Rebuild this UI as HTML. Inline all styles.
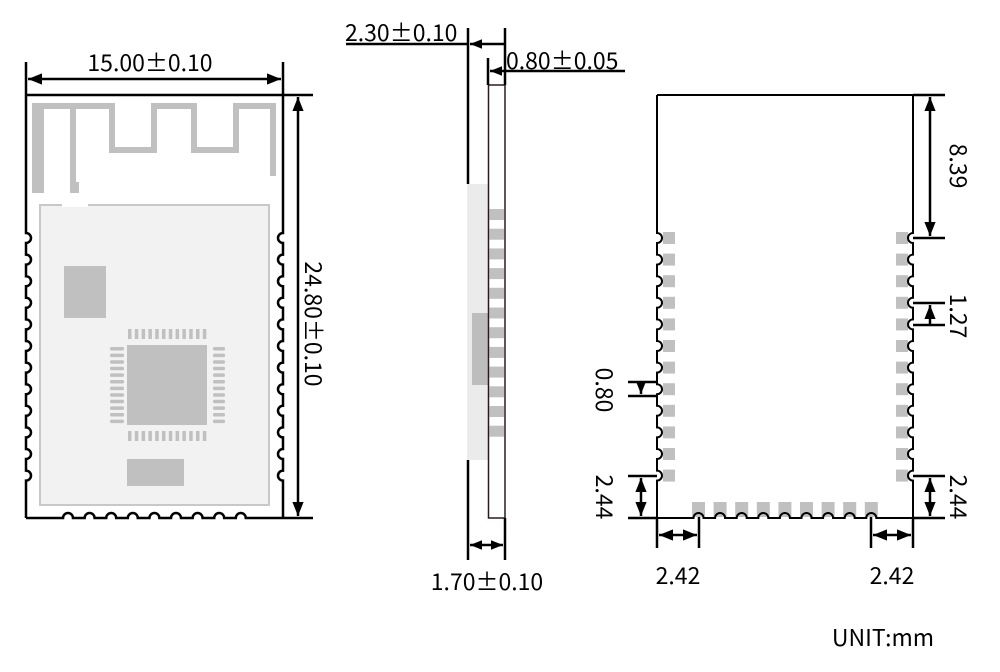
<!DOCTYPE html>
<html><head><meta charset="utf-8"><style>
html,body{margin:0;padding:0;background:#fff;width:1000px;height:672px;overflow:hidden}
text{font-family:"Noto Sans CJK SC","Liberation Sans",sans-serif;font-size:23px;fill:#000}
</style></head><body>
<svg id="s" width="1000" height="672" viewBox="0 0 1000 672" xmlns="http://www.w3.org/2000/svg">
<defs>
<marker id="a" viewBox="0 0 10 10" refX="10" refY="5" markerWidth="12" markerHeight="12" markerUnits="userSpaceOnUse" orient="auto-start-reverse"><path d="M0,1 L10,5 L0,9 z" fill="#000"/></marker>
<marker id="b" viewBox="0 0 10 10" refX="10" refY="5" markerWidth="14" markerHeight="14" markerUnits="userSpaceOnUse" orient="auto-start-reverse"><path d="M0,1 L10,5 L0,9 z" fill="#000"/></marker>
</defs>
<rect x="40" y="205" width="229" height="300" fill="#f2f2f2" stroke="#c8c8c8" stroke-width="2"/>
<rect x="62" y="203" width="26" height="4" fill="#fff"/>
<g fill="#c0c0c0">
<rect x="32" y="103" width="12" height="90"/>
<rect x="70" y="103" width="6" height="80"/><rect x="70" y="182" width="9" height="11"/>
<rect x="32" y="103" width="83" height="6"/>
<rect x="109" y="103" width="6" height="50"/>
<rect x="109" y="147" width="48" height="6"/>
<rect x="151" y="103" width="6" height="50"/>
<rect x="151" y="103" width="46" height="6"/>
<rect x="191" y="103" width="6" height="50"/>
<rect x="191" y="147" width="48" height="6"/>
<rect x="233" y="103" width="6" height="50"/>
<rect x="233" y="103" width="43" height="6"/>
<rect x="270" y="103" width="6" height="73"/>
<rect x="64" y="266" width="42" height="52"/>
<rect x="127" y="345" width="80" height="80"/>
<rect x="127" y="459" width="57" height="27"/>
</g>
<path d="M26,95 H283" stroke="#000" stroke-width="2.5" fill="none"/>
<g stroke="#000" stroke-width="2.5" fill="none">
<line x1="26" y1="62" x2="26" y2="95"/><line x1="283" y1="62" x2="283" y2="95"/>
<line x1="28" y1="79" x2="281" y2="79" marker-start="url(#b)" marker-end="url(#b)"/>
<line x1="283" y1="95" x2="313" y2="95"/><line x1="283" y1="518" x2="313" y2="518"/>
<line x1="298" y1="97" x2="298" y2="516" marker-start="url(#b)" marker-end="url(#b)"/>
</g>
<text x="150" y="71" text-anchor="middle">15.00±0.10</text>
<text transform="translate(305,324) rotate(90)" text-anchor="middle">24.80±0.10</text>
<rect x="467" y="184" width="21" height="276" fill="#ebebeb"/>
<rect x="472" y="313" width="16" height="72" fill="#bdbdbd"/>
<rect x="488.5" y="85" width="16.5" height="433" fill="#fff" stroke="#2a1a1a" stroke-width="1.5"/>
<g stroke="#000" stroke-width="2.5" fill="none">
<line x1="468" y1="28" x2="468" y2="184"/><line x1="468" y1="460" x2="468" y2="560"/>
<line x1="505" y1="28" x2="505" y2="85"/><line x1="505" y1="518" x2="505" y2="560"/>
<line x1="488" y1="58" x2="488" y2="85"/>
<line x1="346" y1="44" x2="468" y2="44"/>
<line x1="505" y1="44" x2="470" y2="44" marker-end="url(#a)"/>
<line x1="625" y1="71" x2="490" y2="71" marker-end="url(#a)"/>
<line x1="470" y1="545" x2="503" y2="545" marker-start="url(#a)" marker-end="url(#a)"/>
</g>
<text x="345" y="41">2.30±0.10</text>
<text x="506" y="69">0.80±0.05</text>
<text x="487" y="590" text-anchor="middle">1.70±0.10</text>
<g stroke="#000" stroke-width="2.5" fill="none">
<line x1="913" y1="95" x2="945" y2="95"/><line x1="913" y1="238" x2="945" y2="238"/>
<line x1="930" y1="97" x2="930" y2="236" marker-start="url(#b)" marker-end="url(#b)"/>
<line x1="913" y1="303" x2="945" y2="303"/><line x1="913" y1="325" x2="945" y2="325"/>
<line x1="930" y1="325" x2="930" y2="305" marker-end="url(#b)"/>
<line x1="628" y1="382" x2="657" y2="382"/><line x1="628" y1="396" x2="657" y2="396"/>
<line x1="641" y1="382" x2="641" y2="394" marker-end="url(#a)"/>
<line x1="628" y1="476" x2="657" y2="476"/><line x1="628" y1="518" x2="657" y2="518"/>
<line x1="641" y1="478" x2="641" y2="516" marker-start="url(#b)" marker-end="url(#b)"/>
<line x1="913" y1="476" x2="945" y2="476"/><line x1="913" y1="518" x2="945" y2="518"/>
<line x1="930" y1="478" x2="930" y2="516" marker-start="url(#b)" marker-end="url(#b)"/>
<line x1="657" y1="518" x2="657" y2="548"/><line x1="699" y1="512" x2="699" y2="548"/>
<line x1="659" y1="535" x2="697" y2="535" marker-start="url(#b)" marker-end="url(#b)"/>
<line x1="871" y1="512" x2="871" y2="548"/><line x1="913" y1="518" x2="913" y2="548"/>
<line x1="873" y1="535" x2="911" y2="535" marker-start="url(#b)" marker-end="url(#b)"/>
</g>
<text transform="translate(950,166) rotate(90)" text-anchor="middle">8.39</text>
<text transform="translate(950,316) rotate(90)" text-anchor="middle">1.27</text>
<text transform="translate(596,390) rotate(90)" text-anchor="middle">0.80</text>
<text transform="translate(596,497) rotate(90)" text-anchor="middle">2.44</text>
<text transform="translate(950,497) rotate(90)" text-anchor="middle">2.44</text>
<text x="678" y="584" text-anchor="middle">2.42</text>
<text x="892" y="584" text-anchor="middle">2.42</text>
<text x="883" y="646" text-anchor="middle">UNIT:mm</text>
<g id="g"></g>
</svg>
<script>
var g=document.getElementById('g'),h='';
var P=21.6,r=5;
function side(x,top,bot,dir){
 var d='M'+x+','+top;
 for(var i=0;i<12;i++){var c=238+i*P;d+=' L'+x+','+(c-r)+' A'+r+','+r+' 0 0,'+(dir>0?1:0)+' '+x+','+(c+r);}
 d+=' L'+x+','+bot;return d;}
function bottom(x0,x1,y,first){
 var d='M'+x0+','+y;
 for(var i=0;i<9;i++){var c=first+i*P;d+=' L'+(c-r)+','+y+' A'+r+','+r+' 0 0,1 '+(c+r)+','+y;}
 d+=' L'+x1+','+y;return d;}
h+='<path d="'+side(26,95,518,1)+'" stroke="#000" stroke-width="2.5" fill="none"/>';
h+='<path d="'+side(283,95,518,-1)+'" stroke="#000" stroke-width="2.5" fill="none"/>';
h+='<path d="'+bottom(26,283,518,68)+'" stroke="#000" stroke-width="2.5" fill="none"/>';
for(var i=0;i<12;i++){var x=128+i*6.8;h+='<rect x="'+x+'" y="329" width="3.5" height="10" fill="#c0c0c0"/><rect x="'+x+'" y="431" width="3.5" height="10" fill="#c0c0c0"/>';
 var y=347+i*6.6;h+='<rect x="110" y="'+y+'" width="14" height="3.5" rx="1.5" fill="#c0c0c0"/><rect x="213" y="'+y+'" width="12" height="3.5" rx="1.5" fill="#c0c0c0"/>';}
for(var i=0;i<12;i++){h+='<rect x="489.5" y="'+(209+i*19.7)+'" width="14.5" height="11" fill="#c0c0c0"/>';}
for(var i=0;i<12;i++){var y=232+i*P;h+='<rect x="663" y="'+y+'" width="12" height="12" fill="#c0c0c0"/><rect x="896" y="'+y+'" width="12" height="12" fill="#c0c0c0"/>';}
for(var i=0;i<9;i++){h+='<rect x="'+(692+i*P)+'" y="502" width="13" height="15" fill="#c0c0c0"/>';}
h+='<path d="M657,95 H913" stroke="#000" stroke-width="2" fill="none"/>';
h+='<path d="'+side(657,95,518,1)+'" stroke="#000" stroke-width="2" fill="none"/>';
h+='<path d="'+side(913,95,518,-1)+'" stroke="#000" stroke-width="2" fill="none"/>';
h+='<path d="'+bottom(657,913,518,698.5)+'" stroke="#000" stroke-width="2" fill="none"/>';
g.innerHTML=h;
</script>
</body></html>
